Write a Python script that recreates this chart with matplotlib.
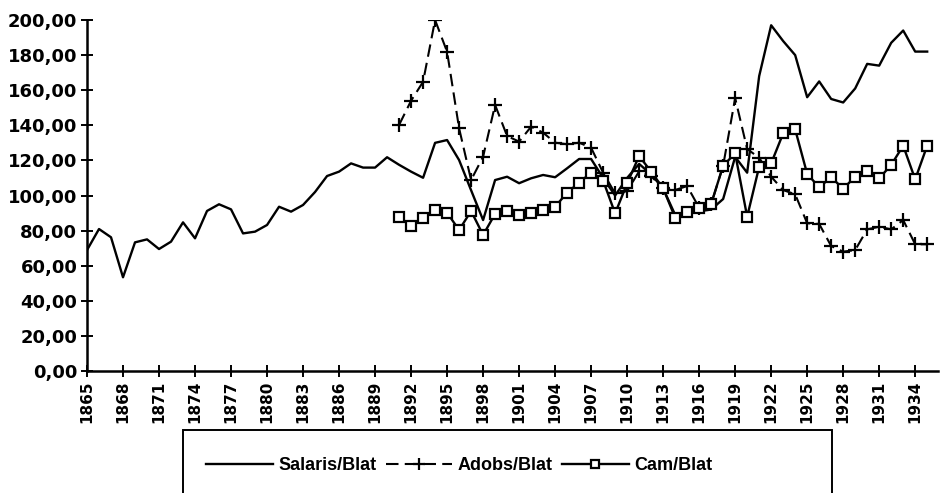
import matplotlib
matplotlib.use("Agg")
import matplotlib.pyplot as plt
from matplotlib.patches import Rectangle

plt.rcParams['font.family'] = ['DejaVu Sans']

# Data
years_salaris = list(range(1865, 1936))
salaris = [68.9, 80.9, 76.2, 53.4, 73.3, 75.0, 69.5, 73.7, 84.7, 75.6,
           91.2, 95.0, 92.1, 78.4, 79.4, 83.2, 93.6, 90.8, 94.6, 102.0,
           111.1, 113.6, 118.3, 115.9, 115.9, 121.8, 117.5, 113.6, 110.1, 130.0,
           131.6, 120.2, 103.0, 86.0, 108.8, 110.7, 107.0, 109.8, 111.7, 110.4,
           115.5, 120.8, 120.8, 110.0, 100.0, 110.0, 118.0, 112.0, 104.0, 89.0,
           90.0, 91.0, 92.0, 98.0, 122.0, 113.0, 168.0, 197.0, 188.0, 180.0,
           156.0, 165.0, 155.0, 153.0, 161.0, 175.0, 174.0, 187.0, 194.0, 182.0,
           182.0]

years_late = list(range(1891, 1936))
adobs = [140.2, 154.0, 164.8, 200.0, 181.9, 138.3, 108.8, 122.1, 151.6, 133.9,
         130.7, 139.2, 135.8, 130.1, 129.2, 130.1, 127.2, 113.0, 101.2, 102.5,
         113.8, 111.0, 104.0, 103.1, 105.4, 93.0, 95.0, 117.0, 155.5, 126.5,
         121.5, 110.7, 103.1, 100.7, 84.2, 83.8, 71.2, 68.0, 68.9, 80.7,
         82.2, 80.7, 86.0, 72.2, 72.2]
cam = [87.9, 82.6, 87.0, 91.7, 90.2, 80.3, 91.2, 77.5, 89.5, 91.3,
       88.9, 89.9, 91.7, 93.6, 101.6, 107.3, 113.0, 108.5, 89.8, 106.9,
       122.5, 113.6, 104.1, 87.4, 90.4, 92.7, 95.2, 117.0, 124.0, 87.9,
       116.4, 118.3, 135.4, 137.7, 112.3, 104.7, 110.4, 103.9, 110.7, 114.1,
       109.8, 117.4, 128.4, 109.2, 128.4]

year_ticks = list(range(1865, 1935, 3))
y_ticks = list(range(0, 201, 20))

W, H = 942, 493
fig = plt.figure(figsize=(W / 100, H / 100), dpi=100)
ax = fig.add_axes([87 / W, 122 / H, 851 / W, 351 / H])

ax.plot(years_salaris, salaris, color='black', lw=1.7, label='Salaris/Blat')
ax.plot(years_late, adobs, color='black', lw=1.5, dashes=(6, 3),
        marker='+', markersize=10, markeredgewidth=1.6, label='Adobs/Blat')
ax.plot(years_late, cam, color='black', lw=1.7, marker='s', markersize=7.5,
        markerfacecolor='white', markeredgewidth=1.6, label='Cam/Blat')

ax.set_xlim(1865, 1935.9)
ax.set_ylim(0, 200)
ax.set_xticks(year_ticks)
ax.set_xticklabels([str(y) for y in year_ticks], rotation=90,
                   fontsize=11, fontweight='bold')
ax.set_yticks(y_ticks)
ax.set_yticklabels([f"{v},00" for v in y_ticks], fontsize=13, fontweight='bold')
ax.tick_params(axis='both', direction='inout', length=8, width=1.4, pad=3)
for side in ['top', 'right']:
    ax.spines[side].set_visible(False)
for side in ['left', 'bottom']:
    ax.spines[side].set_linewidth(1.8)

# legend box (cut off at the bottom like the scan)
fig.patches.append(Rectangle((183 / W, -0.05), (832 - 183) / W, 0.05 + (493 - 430) / H,
                             transform=fig.transFigure, fill=False,
                             edgecolor='black', lw=1.4))
fig.legend(loc='center left', bbox_to_anchor=(190 / W, (493 - 466) / H),
           ncol=3, frameon=False, handlelength=3.7, handletextpad=0.3,
           columnspacing=0.5, markerscale=0.8,
           prop={'family': 'Liberation Sans', 'size': 13, 'weight': 'bold'})

fig.savefig('out.png', dpi=100)
